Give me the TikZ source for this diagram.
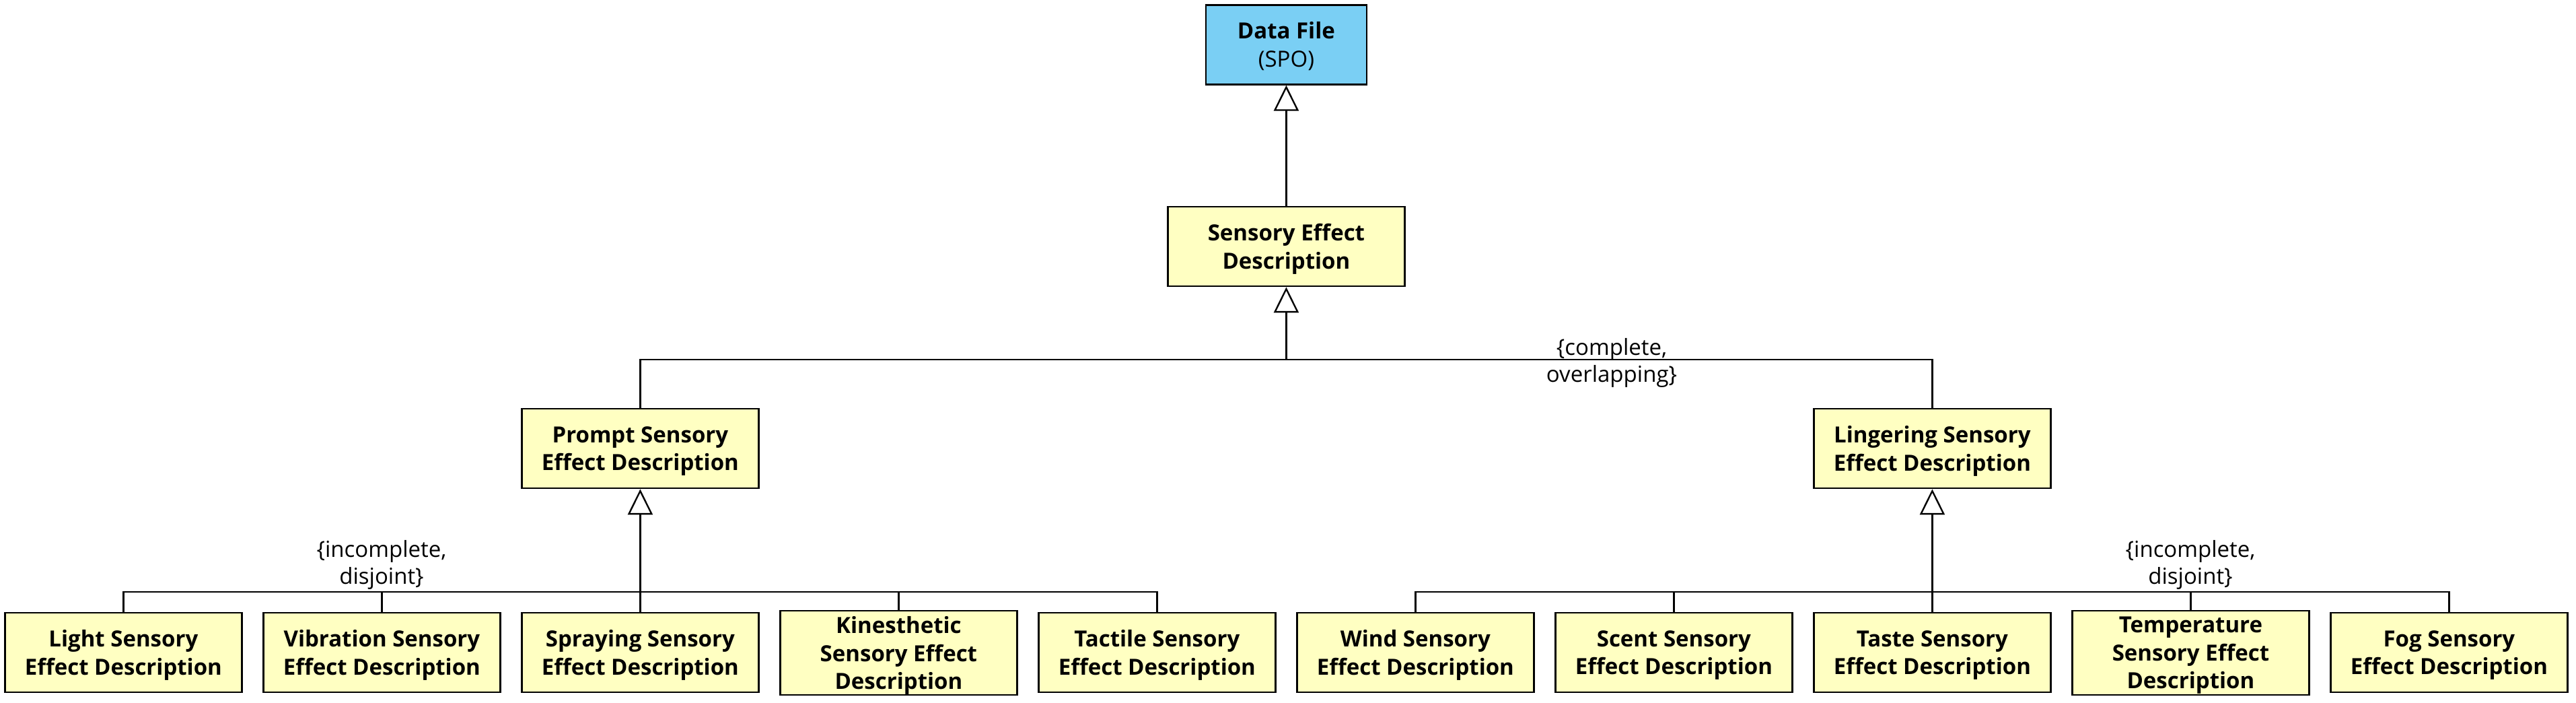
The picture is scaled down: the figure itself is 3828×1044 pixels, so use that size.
\documentclass[tikz,border=0pt]{standalone}
\usepackage{fontspec}
\setmainfont{Open Sans}
\usetikzlibrary{arrows.meta}
\definecolor{boxyellow}{RGB}{255,255,194}
\definecolor{boxblue}{RGB}{122,207,244}
\begin{document}
\begin{tikzpicture}[x=1pt,y=-1pt,
  cls/.style={draw, line width=2.7pt, fill=boxyellow, minimum width=352pt, minimum height=118pt, inner sep=0pt, align=center, text depth=-5pt, font=\fontsize{33}{41.7}\selectfont\bfseries},
  tallcls/.style={cls, minimum height=125pt},
  conn/.style={line width=2.4pt},
  gen/.style={conn, -{Triangle[open,length=38pt,width=37pt]}},
  note/.style={inner sep=0pt, align=center, font=\fontsize{33}{40}\selectfont}
]
\useasboundingbox (0,0) rectangle (3828,1044);

\node[cls, fill=boxblue, minimum width=239pt] (data) at (1911.4,66.3) {Data File\\\textmd{(SPO)}};
\node[cls] (sed) at (1911.4,366) {Sensory Effect\\Description};
\node[cls] (prompt) at (951.4,666) {Prompt Sensory\\Effect Description};
\node[cls] (linger) at (2871.4,666) {Lingering Sensory\\Effect Description};

\node[cls] (light) at (183.4,969) {Light Sensory\\Effect Description};
\node[cls] (vib) at (567.4,969) {Vibration Sensory\\Effect Description};
\node[cls] (spray) at (951.4,969) {Spraying Sensory\\Effect Description};
\node[tallcls] (kin) at (1335.4,969.5) {Kinesthetic\\Sensory Effect\\Description};
\node[cls] (tact) at (1719.4,969) {Tactile Sensory\\Effect Description};

\node[cls] (wind) at (2103.4,969) {Wind Sensory\\Effect Description};
\node[cls] (scent) at (2487.4,969) {Scent Sensory\\Effect Description};
\node[cls] (taste) at (2871.4,969) {Taste Sensory\\Effect Description};
\node[tallcls] (temp) at (3255.4,969.5) {Temperature\\Sensory Effect\\Description};
\node[cls] (fog) at (3639.4,969) {Fog Sensory\\Effect Description};

% top generalization
\draw[gen] (sed.north) -- (data.south);

% complete, overlapping
\coordinate (j1) at (1911.4,534);
\draw[conn] (prompt.north) |- (j1) -- (linger.north |- j1) -- (linger.north);
\draw[gen] (j1) -- (sed.south);
\node[note, anchor=south] (lab1) at (2395,576) {\{complete,\\overlapping\}};

% prompt group
\coordinate (j2) at (951.4,879);
\draw[conn] (light.north) |- (j2) -- (tact.north |- j2) -- (tact.north);
\draw[conn] (vib.north) -- (vib.north |- j2);
\draw[conn] (kin.north) -- (kin.north |- j2);
\draw[gen] (spray.north) -- (prompt.south);
\node[note, anchor=south] (lab2) at (567,876) {\{incomplete,\\disjoint\}};

% lingering group
\coordinate (j3) at (2871.4,879);
\draw[conn] (wind.north) |- (j3) -- (fog.north |- j3) -- (fog.north);
\draw[conn] (scent.north) -- (scent.north |- j3);
\draw[conn] (temp.north) -- (temp.north |- j3);
\draw[gen] (taste.north) -- (linger.south);
\node[note, anchor=south] (lab3) at (3255,876) {\{incomplete,\\disjoint\}};
\end{tikzpicture}
\end{document}
